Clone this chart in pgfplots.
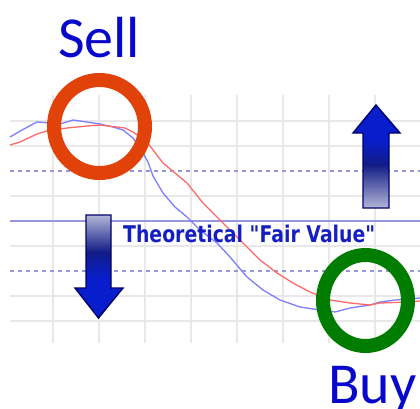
\documentclass[border=0pt]{standalone}
\usepackage{fontspec}
\usepackage{graphicx}
\usepackage{pgfplots}
\pgfplotsset{compat=1.18}

\newfontfamily\callfont{Carlito}
\newfontfamily\verdfont{DejaVu Sans}

\definecolor{txtblue}{RGB}{8,8,205}
\definecolor{fairblue}{RGB}{20,30,195}
\definecolor{refline}{RGB}{150,150,218}
\definecolor{gridgray}{RGB}{232,232,232}
\definecolor{lineblue}{RGB}{125,125,255}
\definecolor{linered}{RGB}{255,105,105}
\definecolor{sellred}{RGB}{224,66,10}
\definecolor{buygreen}{RGB}{0,125,0}
\definecolor{arrblue}{RGB}{8,30,205}
\definecolor{arrdark}{RGB}{18,28,135}
\definecolor{arrlight}{RGB}{178,182,215}
\definecolor{arredge}{RGB}{0,0,105}

% gradients of the two arrows (0bp = bottom)
\pgfdeclareverticalshading{downgrad}{100bp}{color(0bp)=(arrblue); color(25bp)=(arrblue); color(44bp)=(arrblue); color(57bp)=(arrdark); color(75bp)=(arrlight); color(100bp)=(arrlight)}
\pgfdeclareverticalshading{upgrad}{100bp}{color(0bp)=(arrlight); color(25bp)=(arrlight); color(46bp)=(arrdark); color(58bp)=(arrblue); color(100bp)=(arrblue)}

% moving averages, value = distance from the fair value in grid steps
\pgfplotstableread{
x y
10 3.36
22 3.64
37 3.96
50 3.92
60 3.88
73 4.04
87 3.96
100 3.88
113 3.76
123 3.64
133 3.32
143 2.72
148 2.36
153 1.80
163 1.12
175 0.56
187 0.16
200 -0.36
217 -0.88
230 -1.44
247 -2.24
263 -2.76
280 -3.16
300 -3.44
320 -3.56
335 -3.64
350 -3.48
370 -3.36
380 -3.24
395 -3.16
408 -3.12
420 -3.08
}\fastline
\pgfplotstableread{
x y
10 3.04
20 3.16
37 3.48
50 3.64
67 3.72
87 3.80
100 3.84
125 3.72
133 3.56
147 3.16
163 2.32
187 1.52
203 0.72
223 -0.08
243 -0.88
260 -1.56
277 -2.08
293 -2.48
310 -2.84
330 -3.16
350 -3.28
370 -3.36
380 -3.28
408 -3.24
420 -3.20
}\slowline

\begin{document}
\begin{tikzpicture}
\useasboundingbox (0,0) rectangle (420bp,-409bp);
\clip (0,0) rectangle (420bp,-409bp);
\begin{axis}[
    at={(10bp,-343bp)}, anchor=south west,
    scale only axis, width=410bp, height=248bp,
    xmin=10, xmax=420, ymin=-4.88, ymax=5.04,
    clip=false,
    axis line style={draw=none},
    tick style={draw=none},
    xticklabels={}, yticklabels={},
    xtick={53,99,145,191,237,283,329,375},
    ytick={-4,-3,-1,1,3,4},
    grid=major,
    major grid style={gridgray, line width=1.4bp},
    extra y ticks={-2,2},
    extra y tick labels={},
    extra y tick style={grid=major, major grid style={refline, line width=1.2bp, dash pattern=on 4bp off 4bp}},
]
% theoretical fair value
\addplot[refline, line width=1.5bp] coordinates {(10,0) (420,0)};

\addplot[lineblue, line width=1.3bp, line join=round] table {\fastline};
\addplot[linered, line width=1.3bp, line join=round] table {\slowline};

% sell / buy rings
\draw[sellred, line width=14bp] (axis cs:99.5,3.78) ellipse[x radius=45.5bp, y radius=46.5bp];
\draw[buygreen, line width=14bp] (axis cs:365.5,-3.18) ellipse[x radius=42.5bp, y radius=45.5bp];

% arrows
\path[draw=arredge, line width=1.4bp, shading=downgrad, line join=miter]
  (axis cs:86,0.24) -- (axis cs:111,0.24) -- (axis cs:111,-2.68) -- (axis cs:123,-2.68)
  -- (axis cs:98.5,-3.88) -- (axis cs:75,-2.68) -- (axis cs:86,-2.68) -- cycle;
\path[draw=arredge, line width=1.4bp, shading=upgrad, line join=miter]
  (axis cs:363,0.52) -- (axis cs:389,0.52) -- (axis cs:389,3.52) -- (axis cs:400,3.52)
  -- (axis cs:376,4.64) -- (axis cs:353,3.52) -- (axis cs:363,3.52) -- cycle;

\node[anchor=base west, inner sep=0pt, text=fairblue]
  at (axis cs:123,-0.84) {\scalebox{0.82}[1]{\verdfont\fontsize{23bp}{26bp}\selectfont\bfseries Theoretical "Fair Value"}};

\node[anchor=base west, inner sep=0pt, text=txtblue, font=\callfont\fontsize{58bp}{62bp}\selectfont]
  at (axis cs:58,6.56) {Sell};
\node[anchor=base west, inner sep=0pt, text=txtblue, font=\callfont\fontsize{58bp}{62bp}\selectfont]
  at (axis cs:328,-7.3) {Buy};
\end{axis}
\end{tikzpicture}
\end{document}
